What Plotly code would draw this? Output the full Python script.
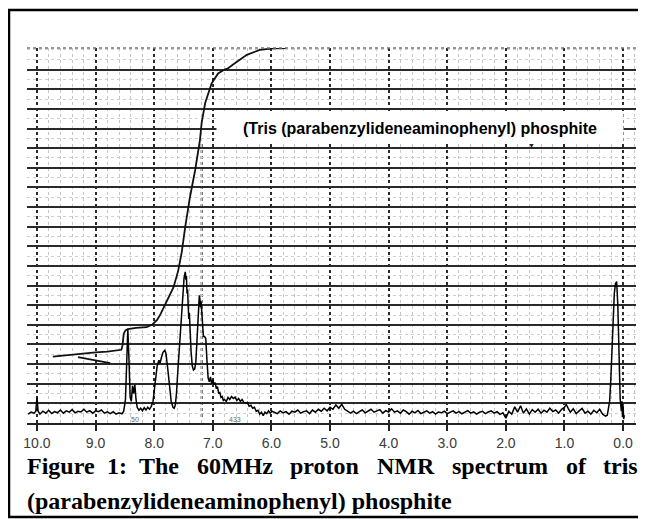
import plotly.graph_objects as go

# --- spectrum (ppm, height in chart-paper rows) ---
base_left_ppm = [10.15, 10.10, 10.05, 10.02, 10.00, 9.98, 9.95, 9.90, 9.85, 9.80,
                 9.75, 9.70, 9.65, 9.60, 9.55, 9.50, 9.45, 9.40, 9.35, 9.30,
                 9.25, 9.20, 9.15, 9.10, 9.05, 9.00, 8.95, 8.90, 8.85, 8.80,
                 8.75, 8.70, 8.65, 8.60, 8.55, 8.52]
base_left_int = [0.45, 0.55, 0.50, 0.60, 1.30, 0.60, 0.45, 0.60, 0.50, 0.65,
                 0.48, 0.58, 0.52, 0.66, 0.50, 0.62, 0.55, 0.68, 0.52, 0.60,
                 0.56, 0.70, 0.55, 0.63, 0.50, 0.62, 0.58, 0.66, 0.50, 0.57,
                 0.48, 0.58, 0.45, 0.52, 0.47, 0.60]

arom_ppm = [8.49, 8.47, 8.45, 8.43, 8.41, 8.39, 8.37, 8.35, 8.33, 8.31,
            8.29, 8.26, 8.23, 8.20, 8.17, 8.14, 8.11, 8.08, 8.05, 8.02,
            8.00, 7.98, 7.95, 7.92, 7.90, 7.88, 7.85, 7.82, 7.80, 7.77,
            7.74, 7.71, 7.68, 7.66, 7.64, 7.62, 7.60, 7.57, 7.54, 7.51,
            7.49, 7.47, 7.46, 7.45, 7.44, 7.43, 7.42, 7.41, 7.40, 7.39,
            7.37, 7.35, 7.33, 7.31, 7.29, 7.27, 7.25, 7.23, 7.22, 7.21,
            7.20, 7.18, 7.16, 7.14, 7.12, 7.10, 7.08, 7.06, 7.04, 7.02,
            7.00, 6.98, 6.96, 6.94, 6.92, 6.90, 6.88, 6.86, 6.84, 6.82,
            6.80, 6.77, 6.74, 6.71, 6.68, 6.65, 6.62, 6.59, 6.56, 6.53,
            6.50, 6.47, 6.44, 6.41, 6.38, 6.35, 6.32, 6.29, 6.26, 6.23,
            6.20, 6.17, 6.14, 6.11, 6.08, 6.05, 6.02, 5.99]
arom_int = [1.2, 3.5, 4.8, 3.2, 1.3, 1.1, 1.9, 1.5, 1.95, 1.2,
            0.8, 0.65, 0.75, 0.62, 0.78, 0.66, 0.80, 0.70, 0.85, 1.1,
            1.6, 2.3, 2.9, 3.2, 3.05, 3.3, 3.6, 3.7, 3.55, 2.8,
            1.8, 1.1, 0.8, 0.75, 0.9, 1.5, 2.5, 3.8, 5.3, 6.6,
            7.4, 7.7, 7.3, 7.5, 6.6, 6.8, 6.0, 5.3, 5.6, 4.6,
            3.6, 2.9, 2.7, 2.75, 3.1, 4.2, 5.6, 6.5, 6.3, 5.9,
            6.2, 4.9, 4.4, 4.4, 4.3, 3.2, 2.3, 2.1, 2.35, 2.0,
            2.2, 1.95, 2.05, 1.75, 1.85, 1.5, 1.55, 1.3, 1.35, 1.15,
            1.2, 1.1, 1.3, 1.2, 1.35, 1.25, 1.32, 1.15, 1.25, 1.1,
            1.2, 1.05, 1.0, 1.05, 0.85, 0.9, 0.75, 0.8, 0.6, 0.65,
            0.45, 0.55, 0.38, 0.55, 0.48, 0.62, 0.5, 0.6]

base_right_ppm = [5.95, 5.90, 5.85, 5.80, 5.75, 5.70, 5.65, 5.60, 5.55, 5.50,
                  5.45, 5.40, 5.35, 5.30, 5.25, 5.20, 5.15, 5.10, 5.05, 5.00,
                  4.95, 4.90, 4.85, 4.80, 4.75, 4.70, 4.65, 4.60, 4.55, 4.50,
                  4.45, 4.40, 4.35, 4.30, 4.25, 4.20, 4.15, 4.10, 4.05, 4.00,
                  3.95, 3.90, 3.85, 3.80, 3.75, 3.70, 3.65, 3.60, 3.55, 3.50,
                  3.45, 3.40, 3.35, 3.30, 3.25, 3.20, 3.15, 3.10, 3.05, 3.00,
                  2.95, 2.90, 2.85, 2.80, 2.75, 2.70, 2.65, 2.60, 2.55, 2.50,
                  2.45, 2.40, 2.35, 2.30, 2.25, 2.20, 2.15, 2.10, 2.05, 2.00,
                  1.95, 1.90, 1.85, 1.80, 1.75, 1.70, 1.65, 1.60, 1.55, 1.50,
                  1.45, 1.40, 1.35, 1.30, 1.25, 1.20, 1.15, 1.10, 1.05, 1.00,
                  0.97, 0.93, 0.90, 0.85, 0.80, 0.75, 0.70, 0.65, 0.60, 0.55,
                  0.50, 0.45, 0.40, 0.35, 0.30, 0.27]
base_right_int = [0.55, 0.48, 0.62, 0.52, 0.58, 0.45, 0.60, 0.55, 0.66, 0.50,
                  0.58, 0.62, 0.48, 0.66, 0.55, 0.70, 0.60, 0.75, 0.62, 0.80,
                  0.70, 0.92, 0.75, 0.95, 0.70, 0.62, 0.50, 0.60, 0.48, 0.58,
                  0.66, 0.52, 0.60, 0.70, 0.55, 0.62, 0.68, 0.50, 0.63, 0.56,
                  0.72, 0.55, 0.62, 0.50, 0.66, 0.58, 0.45, 0.60, 0.52, 0.64,
                  0.48, 0.55, 0.62, 0.50, 0.58, 0.45, 0.56, 0.52, 0.60, 0.48,
                  0.55, 0.62, 0.50, 0.58, 0.47, 0.55, 0.63, 0.50, 0.57, 0.45,
                  0.55, 0.60, 0.48, 0.56, 0.62, 0.50, 0.58, 0.44, 0.52, 0.25,
                  0.60, 0.45, 0.82, 0.55, 0.88, 0.50, 0.72, 0.45, 0.68, 0.55,
                  0.70, 0.50, 0.65, 0.55, 0.75, 0.58, 0.66, 0.50, 0.70, 0.80,
                  0.95, 0.70, 0.55, 0.72, 0.48, 0.62, 0.74, 0.50, 0.60, 0.45,
                  0.65, 0.52, 0.70, 0.45, 0.35, 0.40]

tms_ppm = [0.25, 0.23, 0.21, 0.19, 0.17, 0.15, 0.13, 0.11, 0.09, 0.07,
           0.05, 0.03, 0.02, 0.01, 0.00, -0.01, -0.02]
tms_int = [0.70, 1.1, 2.2, 3.8, 5.5, 6.6, 7.1, 7.2, 6.0, 3.0,
           1.25, 0.6, 1.1, 0.3, 0.9, 0.2, 0.4]

# integral trace
integ_ppm = [9.73, 9.50, 9.22, 9.00, 8.80, 8.62, 8.56, 8.54, 8.52, 8.49,
             8.45, 8.31, 8.13, 8.03, 7.95, 7.89, 7.78, 7.67, 7.59, 7.53,
             7.47, 7.39, 7.30, 7.22, 7.19, 7.13, 7.02, 6.91, 6.80, 6.75,
             6.66, 6.42, 6.20, 5.97, 5.75]
integ_val = [3.38, 3.46, 3.56, 3.60, 3.64, 3.68, 3.73, 3.95, 4.55, 4.72,
             4.78, 4.85, 4.88, 5.02, 5.25, 5.56, 6.24, 6.92, 7.76, 8.70,
             10.0, 11.5, 12.9, 14.4, 15.3, 16.3, 17.3, 17.8, 18.0, 18.05,
             18.25, 18.75, 19.0, 19.08, 19.1]
# short stray integral stroke
integ2_ppm = [9.30, 9.10, 8.90, 8.75]
integ2_val = [3.36, 3.25, 3.14, 3.05]

tick_vals = [10, 9, 8, 7, 6, 5, 4, 3, 2, 1, 0]
tick_text = ["10.0", "9.0", "8.0", "7.0", "6.0", "5.0", "4.0", "3.0", "2.0", "1.0", "0.0"]
row_lines = list(range(1, 19))

caption1_words = ["Figure", "1:", "The", "60MHz", "proton", "NMR", "spectrum", "of", "tris"]
caption1_left = [25, 105, 137, 195, 288, 375, 450, 564, 601]   # justified line
caption2 = "(parabenzylideneaminophenyl) phosphite"
label_text = "(Tris (parabenzylideneaminophenyl) phosphite"

# the page body keeps its 8px margin, so the figure sits at (8, 8) in the window
OFF = 8
W, H = 638, 511
PLOT_X0, PLOT_X1, PLOT_Y0, PLOT_Y1 = 27, 636, 48, 423   # window pixels
L, T = PLOT_X0 - OFF, PLOT_Y0 - OFF
R, B = W - (PLOT_X1 - OFF), H - (PLOT_Y1 - OFF)


def fx(px):
    return (px - PLOT_X0) / (PLOT_X1 - PLOT_X0)


def fy(py):
    return (PLOT_Y1 - py) / (PLOT_Y1 - PLOT_Y0)


spec_ppm = base_left_ppm + arom_ppm + base_right_ppm + tms_ppm
spec_int = base_left_int + arom_int + base_right_int + tms_int

fig = go.Figure()
fig.add_trace(go.Scatter(x=spec_ppm, y=spec_int, mode='lines',
                         line=dict(color='black', width=1.5), hoverinfo='skip'))
fig.add_trace(go.Scatter(x=integ_ppm, y=integ_val, mode='lines',
                         line=dict(color='#111', width=1.8), hoverinfo='skip'))
fig.add_trace(go.Scatter(x=integ2_ppm, y=integ2_val, mode='lines',
                         line=dict(color='#111', width=1.8), hoverinfo='skip'))

shapes = [
    # frame round the whole figure
    dict(type='rect', xref='paper', yref='paper',
         x0=fx(9), x1=fx(643), y0=fy(517), y1=fy(10),
         line=dict(color='black', width=2.5)),
    # darker dotted column near 7.2 ppm on the chart paper
    dict(type='line', xref='x', yref='y', x0=7.19, x1=7.19, y0=0.3, y1=14.3,
         line=dict(color='#333', width=2, dash='dot'), layer='below'),
    # top edge of the paper
    dict(type='line', xref='paper', yref='paper', x0=0, x1=1, y0=1, y1=1,
         line=dict(color='#777', width=1.5, dash='dot')),
]

annotations = [
    dict(x=3.46, y=15.03, xref='x', yref='y', text='<b>' + label_text + '</b>',
         showarrow=False, bgcolor='white', width=406, height=30, borderpad=0,
         font=dict(family='Liberation Sans', size=16, color='black')),
    dict(x=1.57, y=14.15, xref='x', yref='y', text='▼', showarrow=False,
         font=dict(size=7, color='#222')),
    dict(x=8.33, y=0.2, xref='x', yref='y', text='50', showarrow=False,
         font=dict(family='Liberation Sans', size=7, color='#666')),
    dict(x=6.62, y=0.2, xref='x', yref='y', text='433', showarrow=False,
         font=dict(family='Liberation Sans', size=7, color='#666')),
]
for word, left in zip(caption1_words, caption1_left):
    annotations.append(dict(x=fx(left), y=fy(466), xref='paper', yref='paper',
                            xanchor='left', yanchor='middle', text=word, showarrow=False,
                            font=dict(family='Liberation Serif', size=24, color='black',
                                      weight='bold')))
annotations.append(dict(x=fx(25), y=fy(501), xref='paper', yref='paper',
                        xanchor='left', yanchor='middle', text=caption2, showarrow=False,
                        font=dict(family='Liberation Serif', size=24, color='black',
                                  weight='bold')))

fig.update_layout(
    width=W, height=H,
    margin=dict(l=L, r=R, t=T, b=B),
    paper_bgcolor='white', plot_bgcolor='white',
    showlegend=False,
    shapes=shapes,
    annotations=annotations,
    xaxis=dict(
        range=[10.17, -0.22], tickmode='array', tickvals=tick_vals, ticktext=tick_text,
        ticks='outside', ticklen=6, tickwidth=1.5, tickcolor='#222',
        showline=True, linecolor='#222', linewidth=2,
        showgrid=True, gridcolor='#2a2a2a', gridwidth=1.6, griddash='dot',
        zeroline=False,
        tickfont=dict(family='Liberation Sans', size=14, color='#3a3a3a'),
        minor=dict(tickmode='linear', tick0=0, dtick=0.2, showgrid=True,
                   gridcolor='#c4c4c4', gridwidth=1, griddash='dot', ticks=''),
    ),
    yaxis=dict(
        range=[0, 19.1], tickmode='array', tickvals=row_lines, showticklabels=False,
        ticks='', showline=False, zeroline=False,
        showgrid=True, gridcolor='#2a2a2a', gridwidth=1.8,
        minor=dict(tickmode='linear', tick0=0, dtick=0.5, showgrid=True,
                   gridcolor='#cfcfcf', gridwidth=1, griddash='dot', ticks=''),
    ),
)

fig.write_html("out.html")
